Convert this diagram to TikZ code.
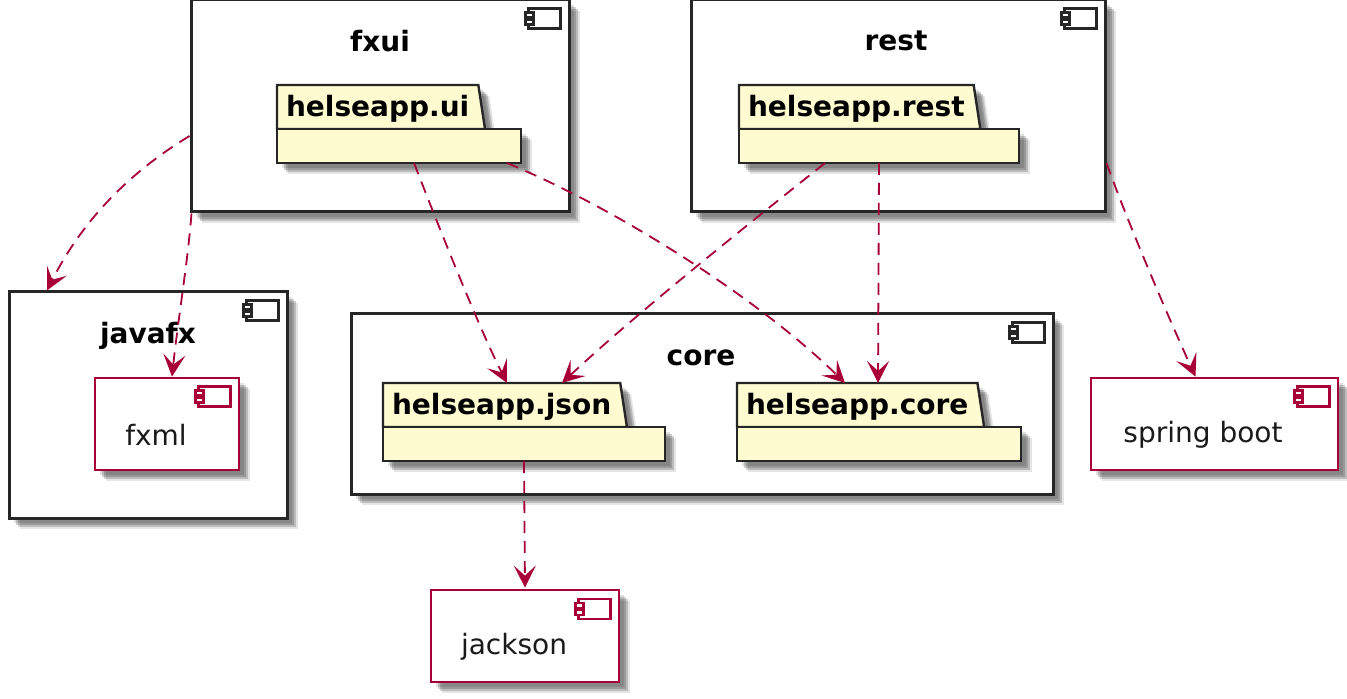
\documentclass[tikz,border=0pt]{standalone}
\usepackage{fontspec}
\setmainfont{DejaVu Sans}
\usetikzlibrary{arrows.meta,shapes.geometric,shadows}
\definecolor{umlred}{HTML}{A80036}
\definecolor{umlyellow}{HTML}{FEFBD0}
\definecolor{umltext}{HTML}{1A1A1A}

\begin{document}
\begin{tikzpicture}[
  x=0.5pt, y=-0.5pt,
  softshadow/.style={
    drop shadow={shadow xshift=2.5pt, shadow yshift=-2.5pt, fill=black, opacity=.12},
    drop shadow={shadow xshift=3.5pt, shadow yshift=-3.5pt, fill=black, opacity=.18},
    drop shadow={shadow xshift=4.5pt, shadow yshift=-4.5pt, fill=black, opacity=.18},
    drop shadow={shadow xshift=5.5pt, shadow yshift=-5.5pt, fill=black, opacity=.1}
  },
  container/.style={
    draw=black!85,
    line width=1.5pt,
    fill=white,
    inner sep=0pt,
    softshadow
  },
  leaf/.style={
    draw=umlred,
    line width=1.4pt,
    fill=white,
    inner sep=0pt,
    softshadow
  },
  pkgbody/.style={
    draw=black!85,
    line width=1.2pt,
    fill=umlyellow,
    inner sep=0pt,
    outer sep=0pt,
    minimum height=17pt,
    anchor=north west,
    softshadow
  },
  pkgtab/.style={
    trapezium,
    trapezium left angle=90,
    trapezium right angle=75,
    trapezium stretches=true,
    draw=black!85,
    line width=1.2pt,
    fill=umlyellow,
    font=\bfseries\fontsize{14}{16}\selectfont,
    text height=11pt,
    text depth=1.5pt,
    inner xsep=4.5pt,
    inner ysep=0pt,
    outer sep=0pt,
    minimum height=22pt,
    anchor=bottom left corner,
    softshadow
  },
  boxtitle/.style={font=\bfseries\fontsize{14}{16}\selectfont},
  leaftext/.style={font=\fontsize{14}{16}\selectfont, text=umltext},
  dep/.style={
    draw=umlred,
    line width=.9pt,
    dash pattern=on 6pt off 4pt,
    -{Stealth[length=11pt, width=11pt, inset=5pt, umlred]}
  },
  iconbox/.style={line width=1.1pt, fill=white}
]

\useasboundingbox (0,0) rectangle (1347,699);

% Outer components.
\node[container, minimum width=189pt, minimum height=106pt] (fxui) at (380,106) {};
\node[container, minimum width=207pt, minimum height=106pt] (rest) at (898,106) {};
\node[container, minimum width=139pt, minimum height=113pt] (javafx) at (148,405) {};
\node[container, minimum width=351pt, minimum height=90pt] (core) at (702,404) {};
\node[boxtitle] (fxuititle) at (380,41) {fxui};
\node[boxtitle] (resttitle) at (896,41) {rest};
\node[boxtitle] (javafxtitle) at (148,336) {javafx};
\node[boxtitle] (coretitle) at (701,358) {core};

% Library components.
\node[leaf, minimum width=72pt, minimum height=46pt] (fxml) at (167,424) {};
\node[leaf, minimum width=123.5pt, minimum height=46pt] (springboot) at (1214.5,424) {};
\node[leaf, minimum width=94pt, minimum height=46pt] (jackson) at (525,636) {};
\node[leaftext] (fxmltext) at (156,435) {fxml};
\node[leaftext] (springboottext) at (1203,435) {spring boot};
\node[leaftext] (jacksontext) at (514,647) {jackson};

% Packages.
\node[pkgtab] (uitab) at (277,129) {helseapp.ui};
\node[pkgbody, minimum width=122pt] (uibody) at (uitab.bottom left corner) {};
\node[pkgtab] (resttab) at (739,129) {helseapp.rest};
\node[pkgbody, minimum width=140pt] (restbody) at (resttab.bottom left corner) {};
\node[pkgtab] (jsontab) at (383,427) {helseapp.json};
\node[pkgbody, minimum width=141pt] (jsonbody) at (jsontab.bottom left corner) {};
\node[pkgtab] (coretab) at (737,427) {helseapp.core};
\node[pkgbody, minimum width=142pt] (corebody) at (coretab.bottom left corner) {};

% Component icons.
\foreach \comp/\col in {fxui/black!85, rest/black!85, javafx/black!85, core/black!85,
                       fxml/umlred, springboot/umlred, jackson/umlred} {
  \draw[iconbox, draw=\col] ([xshift=-21pt,yshift=-5pt]\comp.north east) rectangle ([xshift=-5pt,yshift=-15pt]\comp.north east);
  \draw[iconbox, draw=\col] ([xshift=-22.5pt,yshift=-7pt]\comp.north east) rectangle ([xshift=-18.5pt,yshift=-9.5pt]\comp.north east);
  \draw[iconbox, draw=\col] ([xshift=-22.5pt,yshift=-10.5pt]\comp.north east) rectangle ([xshift=-18.5pt,yshift=-13pt]\comp.north east);
}

% Dependencies.
\draw[dep] ([yshift=-15pt]fxui.west) .. controls (125,175) and (80,225) .. ([xshift=-50.5pt]javafx.north);
\draw[dep] ([xshift=1pt]fxui.south west) .. controls (188,260) and (178,320) .. ([xshift=2.5pt]fxml.north);
\draw[dep] ([xshift=7.5pt]uibody.south) .. controls (440,230) and (480,330) .. ([xshift=62pt]jsontab.top left corner);
\draw[dep] ([xshift=54pt]uibody.south) .. controls (620,210) and (760,300) .. ([xshift=54pt]coretab.top left corner);
\draw[dep] ([xshift=-27pt]restbody.south) .. controls (760,215) and (640,310) .. ([xshift=89.5pt]jsontab.top left corner);
\draw[dep] (restbody.south) -- ([xshift=70.5pt]coretab.top left corner);
\draw[dep] ([yshift=-28.5pt]rest.east) .. controls (1125,215) and (1165,310) .. ([xshift=-9.5pt]springboot.north);
\draw[dep] (jsonbody.south) -- ([yshift=.5pt]jackson.north);

\end{tikzpicture}
\end{document}
